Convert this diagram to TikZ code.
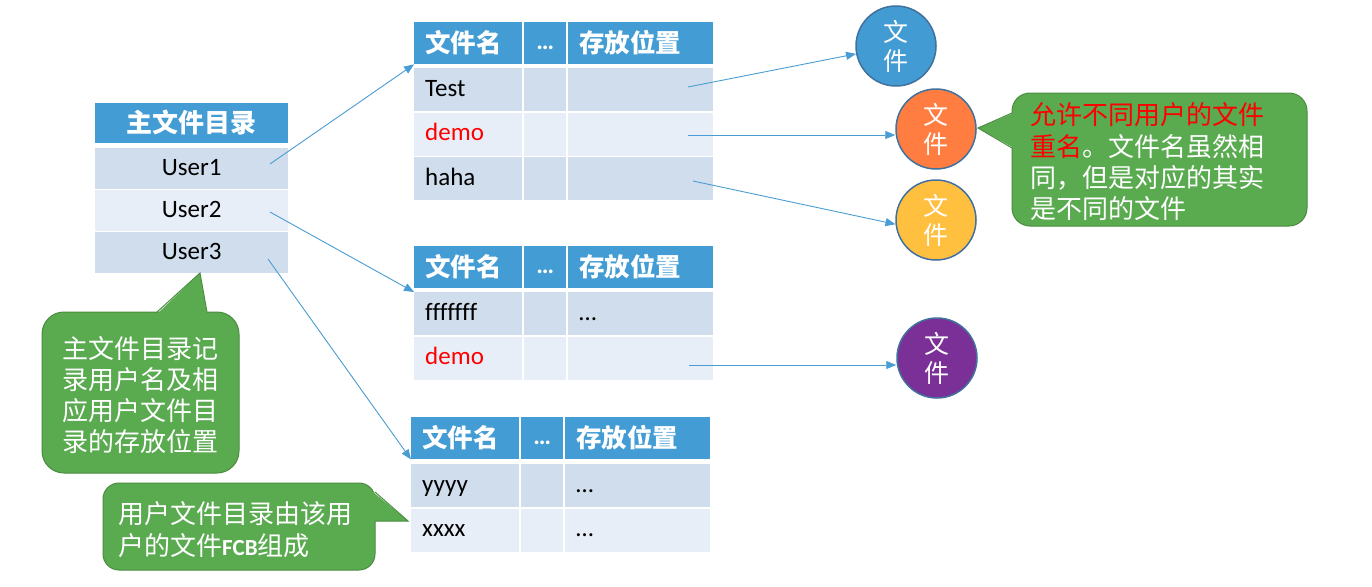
\documentclass[tikz,border=0pt]{standalone}
\usepackage{fontspec}
\setmainfont{Carlito}[Ligatures=CommonOff]
\newfontfamily\cjk{Noto Sans CJK SC}
\usetikzlibrary{arrows.meta,positioning,calc}
\definecolor{hdrblue}   {HTML}{439CD3}
\definecolor{rowdark}   {HTML}{CFDDED}
\definecolor{rowlight}  {HTML}{E8EEF7}
\definecolor{linkblue}  {HTML}{4A9DD4}
\definecolor{ringblue}  {HTML}{41719C}
\definecolor{fileblue}  {HTML}{429CD3}
\definecolor{fileorange}{HTML}{FF7D40}
\definecolor{fileyellow}{HTML}{FFBF3F}
\definecolor{filepurple}{HTML}{7A3096}
\definecolor{notegreen} {HTML}{5AAA50}
\definecolor{noteedge}  {HTML}{4A8D40}
\tikzset{
  hdr/.style={anchor=north west, fill=hdrblue, text=white, minimum height=42,
              inner xsep=11, inner ysep=0, text height=22, text depth=3,
              font={\cjk\bfseries\fontsize{25.5}{30}\selectfont}},
  hdrdots/.style={text height=18, text depth=5, font={\bfseries\fontsize{25}{30}\selectfont}},
  cell/.style={anchor=north west, minimum height=43, inner xsep=11, inner ysep=0,
               text height=18, text depth=5, font=\fontsize{25}{30}\selectfont},
  col1/.style={text width=86, align=left},
  col2/.style={text width=20, align=center},
  col3/.style={text width=123, align=left},
  link/.style={linkblue, line width=0.9, -{Triangle[length=10,width=8]}},
  file/.style={circle, draw=ringblue, line width=1.5, minimum size=80, inner sep=0,
               text=white, align=center, font={\cjk\fontsize{25}{29}\selectfont}},
  note/.style={fill=notegreen, draw=noteedge, line width=1},
  notetext/.style={anchor=west, text=white, align=left, inner sep=0,
                   font={\cjk\fontsize{26}{31.3}\selectfont}},
}

\begin{document}
\begin{tikzpicture}[x=1pt,y=-1pt]
  \useasboundingbox (0,0) rectangle (1372,586);
  \fill[white] (0,0) rectangle (1372,586);

  % master file directory
  \node[hdr, minimum width=193, minimum height=40, inner xsep=0, text height=22.5,
        font={\cjk\bfseries\fontsize{26}{30}\selectfont}] (mfd) at (95,103) {主文件目录};
  \node[cell, minimum width=193, minimum height=41, fill=rowdark]  (user1) at (95,148) {User1};
  \node[cell, minimum width=193, minimum height=41, fill=rowlight] (user2) at (95,190) {User2};
  \node[cell, minimum width=193, minimum height=41, fill=rowdark]  (user3) at (95,232) {User3};

  % user file directory of User1
  \node[hdr, col1] (t1name) at (414,22) {文件名};
  \node[hdr, col2, hdrdots] (t1etc) at (524,22) {…};
  \node[hdr, col3] (t1loc) at (568,22) {存放位置};
  \foreach \row/\ypos/\shade/\fname/\floc in {1/68/rowdark/Test/,
      2/112.5/rowlight/{\textcolor{red}{demo}}/, 3/157/rowdark/haha/} {
    \node[cell, col1, fill=\shade] (t1name\row) at (414,\ypos) {\fname};
    \node[cell, col2, fill=\shade] (t1etc\row)  at (524,\ypos) {};
    \node[cell, col3, fill=\shade] (t1loc\row)  at (568,\ypos) {\floc};
  }

  % user file directory of User2
  \node[hdr, col1] (t2name) at (414,246) {文件名};
  \node[hdr, col2, hdrdots] (t2etc) at (524,246) {…};
  \node[hdr, col3] (t2loc) at (568,246) {存放位置};
  \foreach \row/\ypos/\shade/\fname/\floc in {1/292/rowdark/fffffff/…,
      2/336.5/rowlight/{\textcolor{red}{demo}}/} {
    \node[cell, col1, fill=\shade] (t2name\row) at (414,\ypos) {\fname};
    \node[cell, col2, fill=\shade] (t2etc\row)  at (524,\ypos) {};
    \node[cell, col3, fill=\shade] (t2loc\row)  at (568,\ypos) {\floc};
  }

  % user file directory of User3
  \node[hdr, col1] (t3name) at (411,417) {文件名};
  \node[hdr, col2, hdrdots] (t3etc) at (521,417) {…};
  \node[hdr, col3] (t3loc) at (565,417) {存放位置};
  \foreach \row/\ypos/\shade/\fname/\floc in {1/464/rowdark/yyyy/…, 2/508.5/rowlight/xxxx/…} {
    \node[cell, col1, fill=\shade] (t3name\row) at (411,\ypos) {\fname};
    \node[cell, col2, fill=\shade] (t3etc\row)  at (521,\ypos) {};
    \node[cell, col3, fill=\shade] (t3loc\row)  at (565,\ypos) {\floc};
  }

  % files
  \node[file, fill=fileblue]   (file1) at (896,46)  {文\\件};
  \node[file, fill=fileorange] (file2) at (936,129) {文\\件};
  \node[file, fill=fileyellow] (file3) at (936,220) {文\\件};
  \node[file, fill=filepurple] (file4) at (937,358) {文\\件};

  % pointers
  \coordinate (user1out) at (270,164);
  \coordinate (user2out) at (270,212);
  \coordinate (user3out) at (268,259);
  \coordinate (t1out1) at (688,87);
  \coordinate (t1out2) at (688,135);
  \coordinate (t1out3) at (693,181);
  \coordinate (t2out2) at (689,365);
  \draw[link] (user1out) -- (t1name.south west);
  \draw[link] (user2out) -- (t2name1.north west);
  \draw[link] (user3out) -- (t3name.south west);
  \draw[link] (t1out1) -- (file1);
  \draw[link] (t1out2) -- (t1out2 -| file2.west);
  \draw[link] (t1out3) -- (file3.186);
  \draw[link] (t2out2) -- (t2out2 -| file4.west);

  % callouts
  \filldraw[note, rounded corners=18] (1012,93) rectangle (1307,226);
  \fill[notegreen] (1014,113) -- (978,128) -- (1014,148) -- cycle;
  \draw[noteedge, line width=1] (1012,113) -- (978,128) -- (1012,148);
  \node[notetext] (rename) at (1030,162)
    {\textcolor{red}{允许不同用户的文件}\\\textcolor{red}{重名}。文件名虽然相\\同，但是对应的其实\\是不同的文件};

  \filldraw[note, rounded corners=22] (42,312) rectangle (239,473);
  \fill[notegreen] (157,314) -- (200,273) -- (207,314) -- cycle;
  \draw[noteedge, line width=1] (157,312) -- (200,273) -- (207,312);
  \node[notetext] (mfdnote) at (62,395) {主文件目录记\\录用户名及相\\应用户文件目\\录的存放位置};

  \filldraw[note, rounded corners=16] (103,483) rectangle (375,570);
  \fill[notegreen] (373,492) -- (408,521) -- (373,521) -- cycle;
  \draw[noteedge, line width=1] (375,492) -- (408,521) -- (375,521);
  \node[notetext] (ufdnote) at (118,529.5)
    {用户文件目录由该用\\户的文件{\rmfamily\bfseries\fontsize{23}{31.3}\selectfont FCB}组成};
\end{tikzpicture}
\end{document}
